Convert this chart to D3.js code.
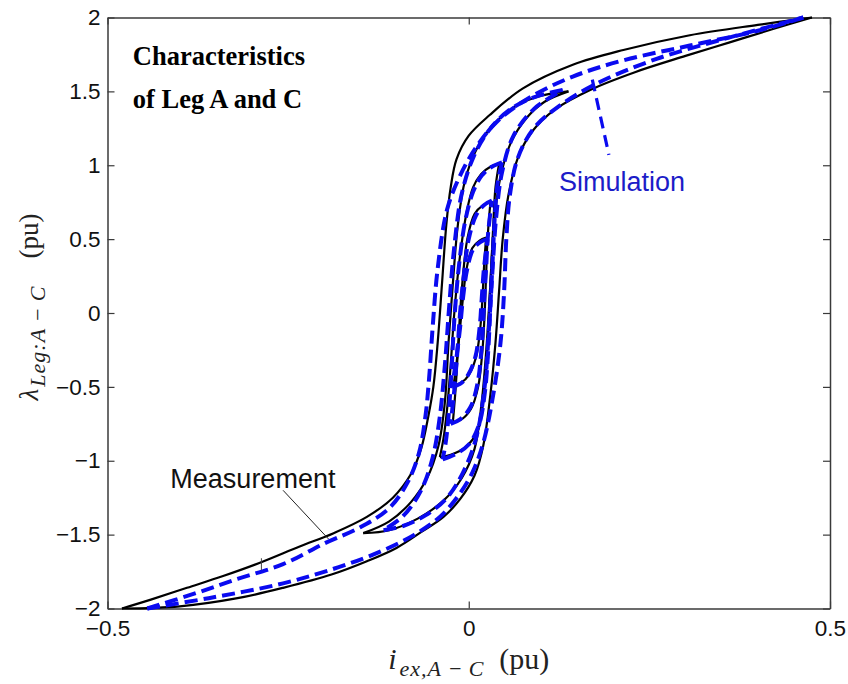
<!DOCTYPE html>
<html>
<head>
<meta charset="utf-8">
<script src="https://cdn.jsdelivr.net/npm/d3@7"></script>
<style>
  body { margin: 0; background: #fff; }
  svg { display: block; }
</style>
</head>
<body>
<div id="chart"></div>
<script>
// figure size
const width = 848;
const height = 684;
const margin = { top: 17.5, right: 18, bottom: 75.5, left: 107.5 };

// axis ticks
const xTicks = [-0.5, 0, 0.5];
const yTicks = [-2, -1.5, -1, -0.5, 0, 0.5, 1, 1.5, 2];

// measurement loops [i_ex, lambda], ascending then descending branch
const measMajorUp = [[-0.48,-2.0],[-0.40,-1.985],[-0.32,-1.93],[-0.257,-1.86],[-0.19,-1.77],[-0.141,-1.68],[-0.10,-1.59],[-0.065,-1.48],[-0.035,-1.38],[-0.012,-1.26],[0.008,-1.10],[0.02,-0.90],[0.03,-0.55],[0.037,-0.20],[0.042,0.15],[0.047,0.50],[0.055,0.80],[0.068,1.05],[0.088,1.23],[0.12,1.38],[0.168,1.51],[0.23,1.63],[0.30,1.74],[0.36,1.83],[0.42,1.92],[0.475,2.0]];
const measMajorDown = [[0.475,2.0],[0.40,1.95],[0.306,1.88],[0.214,1.78],[0.144,1.68],[0.075,1.52],[0.029,1.34],[0.0,1.20],[-0.017,1.04],[-0.025,0.85],[-0.031,0.60],[-0.037,0.20],[-0.043,-0.20],[-0.049,-0.50],[-0.056,-0.70],[-0.066,-0.92],[-0.080,-1.09],[-0.105,-1.25],[-0.141,-1.38],[-0.187,-1.49],[-0.234,-1.58],[-0.289,-1.69],[-0.34,-1.78],[-0.39,-1.86],[-0.44,-1.94],[-0.48,-2.0]];
const meas15Up = [[-0.146,-1.49],[-0.11,-1.47],[-0.07,-1.39],[-0.035,-1.27],[-0.01,-1.12],[0.008,-0.92],[0.018,-0.6],[0.025,-0.2],[0.03,0.2],[0.035,0.6],[0.043,0.9],[0.058,1.15],[0.08,1.32],[0.105,1.43],[0.138,1.50]];
const meas15Down = [[0.138,1.50],[0.10,1.47],[0.065,1.40],[0.035,1.28],[0.012,1.12],[-0.005,0.9],[-0.015,0.6],[-0.022,0.2],[-0.028,-0.2],[-0.033,-0.6],[-0.042,-0.9],[-0.058,-1.12],[-0.08,-1.28],[-0.11,-1.41],[-0.146,-1.49]];
const meas10Up = [[-0.04,-0.975],[-0.025,-0.96],[-0.005,-0.91],[0.012,-0.80],[0.02,-0.6],[0.025,-0.3],[0.028,0],[0.031,0.3],[0.034,0.6],[0.037,0.85],[0.042,1.01]];
const meas10Down = [[0.042,1.01],[0.03,0.99],[0.017,0.94],[0.006,0.85],[-0.003,0.68],[-0.013,0.35],[-0.02,0],[-0.025,-0.35],[-0.03,-0.65],[-0.035,-0.85],[-0.04,-0.975]];
const meas075Up = [[-0.022,-0.74],[-0.01,-0.72],[0.003,-0.65],[0.013,-0.5],[0.019,-0.25],[0.022,0],[0.024,0.25],[0.026,0.5],[0.03,0.75]];
const meas075Down = [[0.03,0.75],[0.02,0.73],[0.008,0.67],[-0.002,0.5],[-0.008,0.25],[-0.012,0],[-0.015,-0.25],[-0.018,-0.5],[-0.022,-0.74]];
const meas05Up = [[-0.021,-0.49],[-0.01,-0.47],[0.0,-0.42],[0.01,-0.3],[0.016,-0.1],[0.019,0.1],[0.021,0.3],[0.024,0.51]];
const meas05Down = [[0.024,0.51],[0.015,0.49],[0.005,0.44],[-0.003,0.3],[-0.008,0.1],[-0.012,-0.1],[-0.016,-0.3],[-0.021,-0.49]];

// simulation loops
const simMajorUp = [[-0.445,-2.0],[-0.36,-1.93],[-0.257,-1.83],[-0.18,-1.72],[-0.12,-1.61],[-0.075,-1.50],[-0.04,-1.38],[-0.015,-1.24],[0.005,-1.08],[0.02,-0.88],[0.034,-0.55],[0.044,-0.2],[0.049,0.15],[0.052,0.5],[0.057,0.8],[0.068,1.05],[0.09,1.25],[0.125,1.40],[0.18,1.56],[0.26,1.72],[0.35,1.85],[0.41,1.93],[0.463,2.0]];
const simMajorDown = [[0.463,2.0],[0.40,1.91],[0.306,1.81],[0.214,1.71],[0.144,1.60],[0.085,1.46],[0.04,1.30],[0.01,1.12],[-0.012,0.93],[-0.03,0.7],[-0.043,0.3],[-0.05,-0.1],[-0.055,-0.45],[-0.06,-0.7],[-0.069,-0.95],[-0.085,-1.15],[-0.11,-1.32],[-0.15,-1.45],[-0.2,-1.56],[-0.257,-1.70],[-0.32,-1.80],[-0.38,-1.90],[-0.445,-2.0]];
const sim15Up = [[-0.118,-1.47],[-0.09,-1.44],[-0.06,-1.37],[-0.03,-1.25],[-0.008,-1.08],[0.01,-0.85],[0.022,-0.5],[0.028,-0.1],[0.033,0.3],[0.038,0.65],[0.046,0.95],[0.062,1.2],[0.09,1.38],[0.13,1.51]];
const sim15Down = [[0.13,1.51],[0.09,1.46],[0.055,1.37],[0.027,1.23],[0.006,1.05],[-0.01,0.8],[-0.02,0.45],[-0.027,0.05],[-0.033,-0.35],[-0.04,-0.7],[-0.05,-0.98],[-0.066,-1.2],[-0.09,-1.37],[-0.118,-1.47]];
const sim10Up = [[-0.036,-0.99],[-0.02,-0.96],[0.0,-0.89],[0.014,-0.76],[0.022,-0.55],[0.027,-0.25],[0.03,0.05],[0.033,0.35],[0.036,0.65],[0.04,0.88],[0.046,1.02]];
const sim10Down = [[0.046,1.02],[0.032,0.99],[0.018,0.93],[0.006,0.82],[-0.005,0.62],[-0.014,0.3],[-0.02,-0.05],[-0.024,-0.4],[-0.028,-0.7],[-0.032,-0.88],[-0.036,-0.99]];
const sim075Up = [[-0.025,-0.75],[-0.012,-0.72],[0.002,-0.64],[0.012,-0.48],[0.018,-0.22],[0.021,0.05],[0.024,0.3],[0.027,0.55],[0.032,0.76]];
const sim075Down = [[0.032,0.76],[0.021,0.73],[0.01,0.66],[0.0,0.5],[-0.007,0.25],[-0.012,0],[-0.016,-0.28],[-0.02,-0.52],[-0.025,-0.75]];
const sim05Up = [[-0.023,-0.5],[-0.012,-0.48],[-0.001,-0.42],[0.009,-0.3],[0.015,-0.1],[0.018,0.1],[0.021,0.3],[0.026,0.5]];
const sim05Down = [[0.026,0.5],[0.016,0.48],[0.006,0.43],[-0.002,0.3],[-0.008,0.1],[-0.012,-0.1],[-0.017,-0.3],[-0.023,-0.5]];

const measCurves = [measMajorUp, measMajorDown, meas15Up, meas15Down, meas10Up, meas10Down, meas075Up, meas075Down, meas05Up, meas05Down];
const simCurves = [simMajorUp, simMajorDown, sim15Up, sim15Down, sim10Up, sim10Down, sim075Up, sim075Down, sim05Up, sim05Down];

// annotations (data units)
const measLeader = [[-0.257,-1.2],[-0.194,-1.53]];
const simLeader = [[0.171,1.58],[0.194,1.07]];
const strayTick = [[-0.287,-1.66],[-0.287,-1.74]];

const svg = d3.select("#chart")
    .append("svg")
    .attr("width", width)
    .attr("height", height);

const x = d3.scaleLinear()
    .domain([-0.5, 0.5])
    .range([margin.left, width - margin.right]);

const y = d3.scaleLinear()
    .domain([-2, 2])
    .range([height - margin.bottom, margin.top]);

const line = d3.line()
    .x(d => x(d[0]))
    .y(d => y(d[1]))
    .curve(d3.curveCatmullRom.alpha(0.5));

const tickFont = "'Liberation Sans', Arial, sans-serif";
const serif = "'Liberation Serif', 'Times New Roman', serif";

// axes, MATLAB style box with inward ticks
function styleAxis(g) {
    g.select(".domain").attr("stroke", "#3a3a3a").attr("stroke-width", 1.5);
    g.selectAll(".tick line").attr("stroke", "#3a3a3a").attr("stroke-width", 1.2);
    g.selectAll(".tick text")
        .attr("font-family", tickFont)
        .attr("font-size", 22.5)
        .attr("fill", "#111");
}

svg.append("g")
    .attr("transform", `translate(0,${height - margin.bottom})`)
    .call(d3.axisBottom(x).tickValues(xTicks).tickSizeInner(-7).tickSizeOuter(0).tickPadding(12).tickFormat(d3.format("")))
    .call(styleAxis);

svg.append("g")
    .attr("transform", `translate(0,${margin.top})`)
    .call(d3.axisTop(x).tickValues(xTicks).tickSizeInner(-7).tickSizeOuter(0).tickFormat(""))
    .call(styleAxis);

svg.append("g")
    .attr("transform", `translate(${margin.left},0)`)
    .call(d3.axisLeft(y).tickValues(yTicks).tickSizeInner(-7).tickSizeOuter(0).tickPadding(7).tickFormat(d3.format("")))
    .call(styleAxis);

svg.append("g")
    .attr("transform", `translate(${width - margin.right},0)`)
    .call(d3.axisRight(y).tickValues(yTicks).tickSizeInner(-7).tickSizeOuter(0).tickFormat(""))
    .call(styleAxis);

// measurement: black solid
svg.append("g")
    .selectAll("path")
    .data(measCurves)
    .join("path")
    .attr("d", line)
    .attr("fill", "none")
    .attr("stroke", "#000")
    .attr("stroke-width", 2.2);

// simulation: blue dashed
svg.append("g")
    .selectAll("path")
    .data(simCurves)
    .join("path")
    .attr("d", line)
    .attr("fill", "none")
    .attr("stroke", "#0a0af0")
    .attr("stroke-width", 4)
    .attr("stroke-dasharray", "13,6");

// leaders
const straight = d3.line().x(d => x(d[0])).y(d => y(d[1]));

svg.append("path")
    .attr("d", straight(measLeader))
    .attr("stroke", "#222")
    .attr("stroke-width", 1);

svg.append("path")
    .attr("d", straight(simLeader))
    .attr("stroke", "#0a0af0")
    .attr("stroke-width", 3.2)
    .attr("stroke-dasharray", "12,7");

svg.append("path")
    .attr("d", straight(strayTick))
    .attr("stroke", "#444")
    .attr("stroke-width", 1);

// labels
svg.append("text")
    .attr("x", x(0.125))
    .attr("y", y(0.826))
    .attr("font-family", tickFont)
    .attr("font-size", 27)
    .attr("fill", "#1c1cc8")
    .text("Simulation");

svg.append("text")
    .attr("x", x(-0.413))
    .attr("y", y(-1.184))
    .attr("font-family", tickFont)
    .attr("font-size", 27)
    .attr("fill", "#111")
    .text("Measurement");

const title = svg.append("text")
    .attr("font-family", serif)
    .attr("font-weight", "bold")
    .attr("font-size", 26.5)
    .attr("fill", "#000");
title.append("tspan").attr("x", x(-0.465)).attr("y", y(1.68)).text("Characteristics");
title.append("tspan").attr("x", x(-0.465)).attr("y", y(1.39)).text("of Leg A and C");

// axis titles (LaTeX-like)
const xLabel = svg.append("text")
    .attr("x", x(0))
    .attr("y", 669)
    .attr("text-anchor", "middle")
    .attr("font-family", serif)
    .attr("font-size", 30)
    .attr("fill", "#222");
xLabel.append("tspan").attr("font-style", "italic").text("i");
xLabel.append("tspan").attr("font-style", "italic").attr("font-size", 22).attr("letter-spacing", 1).attr("dx", 3).attr("dy", 7).text("ex,A\u2009\u2212\u2009C");
xLabel.append("tspan").attr("dy", -7).text("\u2002(pu)");

const yLabel = svg.append("text")
    .attr("transform", `translate(38,307) rotate(-90)`)
    .attr("text-anchor", "middle")
    .attr("font-family", serif)
    .attr("font-size", 27)
    .attr("fill", "#222");
yLabel.append("tspan").attr("font-style", "italic").text("\u03bb");
yLabel.append("tspan").attr("font-style", "italic").attr("font-size", 22).attr("letter-spacing", 1).attr("dx", 2).attr("dy", 7).text("Leg:A\u2009\u2212\u2009C");
yLabel.append("tspan").attr("dy", -7).text("\u2003(pu)");
</script>
</body>
</html>
